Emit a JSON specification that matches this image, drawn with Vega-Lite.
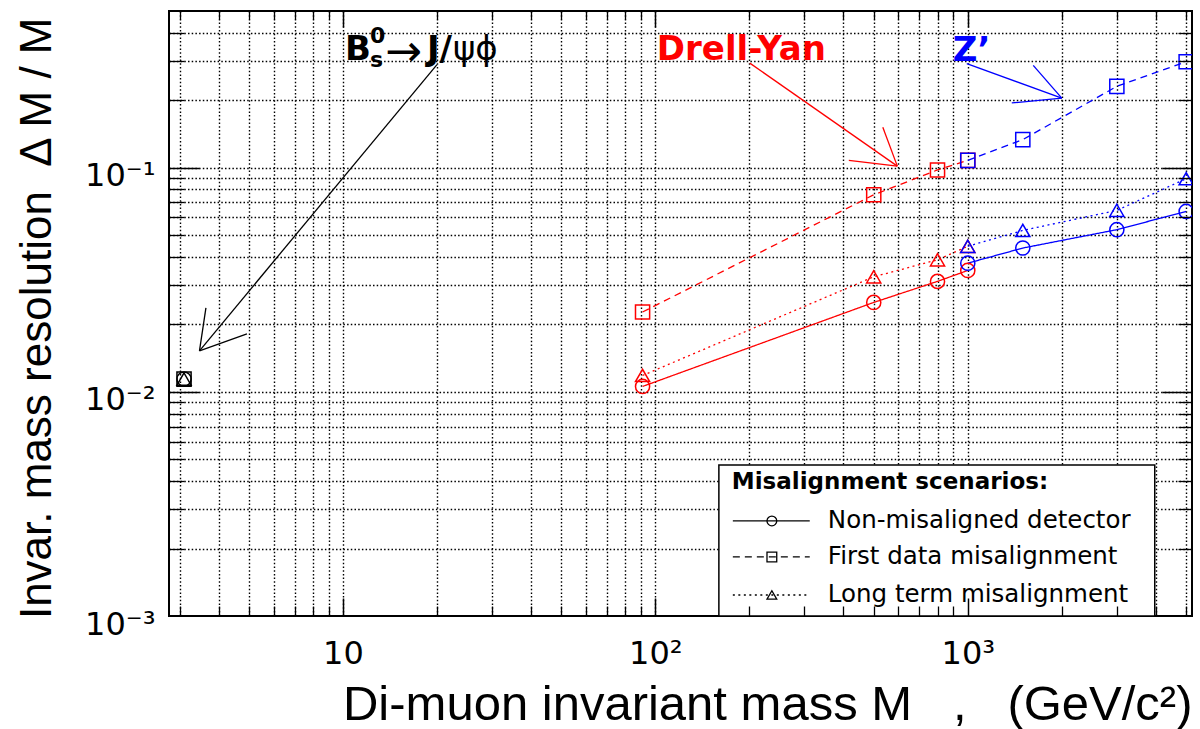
{
  "$schema": "https://vega.github.io/schema/vega-lite/v6.json",
  "width": 1023,
  "height": 605,
  "autosize": {"type": "none"},
  "padding": {"left": 169, "top": 11, "right": 8, "bottom": 113},
  "background": "white",
  "config": {"view": {"stroke": "#000", "strokeWidth": 2}},
  "datasets": {
    "series": [
      {"process": "DY", "scenario": "Non", "mass": 91, "res": 0.01057},
      {"process": "DY", "scenario": "Non", "mass": 500, "res": 0.02506},
      {"process": "DY", "scenario": "Non", "mass": 800, "res": 0.0311},
      {"process": "DY", "scenario": "Non", "mass": 1000, "res": 0.0348},
      {"process": "DY", "scenario": "First", "mass": 91, "res": 0.0227},
      {"process": "DY", "scenario": "First", "mass": 500, "res": 0.0757},
      {"process": "DY", "scenario": "First", "mass": 800, "res": 0.0977},
      {"process": "DY", "scenario": "First", "mass": 1000, "res": 0.1078},
      {"process": "DY", "scenario": "Long", "mass": 91, "res": 0.01183},
      {"process": "DY", "scenario": "Long", "mass": 500, "res": 0.0326},
      {"process": "DY", "scenario": "Long", "mass": 800, "res": 0.0388},
      {"process": "DY", "scenario": "Long", "mass": 1000, "res": 0.0446},
      {"process": "Zp", "scenario": "Non", "mass": 1000, "res": 0.0375},
      {"process": "Zp", "scenario": "Non", "mass": 1500, "res": 0.0438},
      {"process": "Zp", "scenario": "Non", "mass": 3000, "res": 0.0529},
      {"process": "Zp", "scenario": "Non", "mass": 5000, "res": 0.0638},
      {"process": "Zp", "scenario": "First", "mass": 1000, "res": 0.1078},
      {"process": "Zp", "scenario": "First", "mass": 1500, "res": 0.1334},
      {"process": "Zp", "scenario": "First", "mass": 3000, "res": 0.2306},
      {"process": "Zp", "scenario": "First", "mass": 5000, "res": 0.297},
      {"process": "Zp", "scenario": "Long", "mass": 1000, "res": 0.0446},
      {"process": "Zp", "scenario": "Long", "mass": 1500, "res": 0.0525},
      {"process": "Zp", "scenario": "Long", "mass": 3000, "res": 0.0645},
      {"process": "Zp", "scenario": "Long", "mass": 5000, "res": 0.0893},
      {"process": "JPsi", "scenario": "Non", "mass": 3.1, "res": 0.0114},
      {"process": "JPsi", "scenario": "First", "mass": 3.1, "res": 0.0114},
      {"process": "JPsi", "scenario": "Long", "mass": 3.1, "res": 0.0114}
    ],
    "arrows": [
      {"process": "JPsi", "x": 20, "y": 0.2883, "x2": 3.474, "y2": 0.01524},
      {"process": "JPsi", "x": 3.474, "y": 0.01524, "x2": 3.643, "y2": 0.02371},
      {"process": "JPsi", "x": 3.474, "y": 0.01524, "x2": 4.929, "y2": 0.01815},
      {"process": "DY", "x": 200.6, "y": 0.2927, "x2": 594.9, "y2": 0.1016},
      {"process": "DY", "x": 594.9, "y": 0.1016, "x2": 534.6, "y2": 0.1516},
      {"process": "DY", "x": 594.9, "y": 0.1016, "x2": 416.1, "y2": 0.1078},
      {"process": "Zp", "x": 992.7, "y": 0.2912, "x2": 1999, "y2": 0.2043},
      {"process": "Zp", "x": 1999, "y": 0.2043, "x2": 1620, "y2": 0.2862},
      {"process": "Zp", "x": 1999, "y": 0.2043, "x2": 1383, "y2": 0.1944}
    ],
    "bigtext": [
      {"process": "JPsi", "label": "B", "x": 10.15, "y": 0.3034},
      {"process": "JPsi", "label": "J/", "x": 18.57, "y": 0.3034},
      {"process": "DY", "label": "Drell-Yan", "x": 101.1, "y": 0.3034},
      {"process": "Zp", "label": "Z’", "x": 895.4, "y": 0.3004}
    ],
    "supsub": [
      {"label": "0", "x": 12.2, "y": 0.3614},
      {"label": "s", "x": 12.2, "y": 0.2825}
    ],
    "arrowglyph": [{"label": "→", "x": 13.63, "y": 0.2853}],
    "greek": [{"label": "ψϕ", "x": 22.49, "y": 0.3034}],
    "legbox": [{"x": 159.7, "x2": 3967, "y": 0.001, "y2": 0.00472}],
    "legtitle": [{"label": "Misalignment scenarios:", "x": 175.7, "y": 0.00369}],
    "legentries": [
      {"scenario": "Non", "label": "Non-misaligned detector", "x1": 177, "x2": 312, "xm": 236, "xt": 356.5, "y": 0.002655},
      {"scenario": "First", "label": "First data misalignment", "x1": 177, "x2": 312, "xm": 236, "xt": 356.5, "y": 0.001834},
      {"scenario": "Long", "label": "Long term misalignment", "x1": 177, "x2": 312, "xm": 236, "xt": 356.5, "y": 0.001241}
    ]
  },
  "resolve": {"axis": {"x": "independent", "y": "independent"}},
  "layer": [
    {
      "data": {"name": "series"},
      "mark": {"type": "line", "strokeWidth": 1.3},
      "encoding": {
        "x": {"field": "mass", "type": "quantitative", "scale": {"type": "log", "domain": [2.775, 5220], "nice": false},
          "axis": {"orient": "bottom", "values": [10, 100, 1000], "ticks": false, "tickSize": 0, "domain": false, "grid": false, "labels": true,
            "labelExpr": "datum.value < 50 ? '10' : datum.value < 500 ? '10²' : '10³'",
            "labelFont": "DejaVu Sans", "labelFontSize": 32, "labelColor": "#000", "labelPadding": 22, "labelBaseline": "top", "labelAlign": "center", "labelFlush": false, "labelOverlap": false,
            "title": "Di-muon invariant mass M\u00a0\u00a0\u00a0,\u00a0\u00a0\u00a0(GeV/c²)", "titleFont": "Liberation Sans", "titleFontSize": 49, "titleFontWeight": "normal", "titleColor": "#000",
            "titleX": 1023, "titleY": 103, "titleAlign": "right", "titleAnchor": "end", "titleBaseline": "alphabetic"}},
        "y": {"field": "res", "type": "quantitative", "scale": {"type": "log", "domain": [0.001, 0.5], "nice": false},
          "axis": {"orient": "left", "values": [0.001, 0.01, 0.1], "ticks": false, "tickSize": 0, "domain": false, "grid": false, "labels": true,
            "labelExpr": "datum.value < 0.005 ? '10⁻³' : datum.value < 0.05 ? '10⁻²' : '10⁻¹'",
            "labelFont": "DejaVu Sans", "labelFontSize": 32, "labelColor": "#000", "labelPadding": 14, "labelAlign": "right", "labelBaseline": "middle", "labelOffset": 8, "labelFlush": false, "labelOverlap": false,
            "title": "Invar. mass resolution\u00a0\u00a0Δ M / M", "titleFont": "Liberation Sans", "titleFontSize": 44, "titleFontWeight": "normal", "titleColor": "#000",
            "titleAngle": -90, "titleX": -119, "titleY": 6, "titleAlign": "right", "titleAnchor": "end", "titleBaseline": "alphabetic"}},
        "color": {"field": "process", "type": "nominal", "scale": {"domain": ["DY", "Zp", "JPsi"], "range": ["#ff0000", "#0000ff", "#000000"]}, "legend": null},
        "strokeDash": {"field": "scenario", "type": "nominal", "scale": {"domain": ["Non", "First", "Long"], "range": [[1, 0], [7, 5], [2, 3.5]]}, "legend": null}
      }
    },
    {
      "data": {"name": "series"},
      "mark": {"type": "point", "filled": false, "strokeWidth": 1.5, "size": 200, "opacity": 1, "clip": true},
      "encoding": {
        "x": {"field": "mass", "type": "quantitative", "scale": {"type": "log", "domain": [2.775, 5220], "nice": false},
          "axis": {"orient": "bottom", "values": [3, 4, 5, 6, 7, 8, 9, 10, 20, 30, 40, 50, 60, 70, 80, 90, 100, 200, 300, 400, 500, 600, 700, 800, 900, 1000, 2000, 3000, 4000, 5000],
            "grid": true, "gridColor": "#000", "gridDash": [1.5, 2.2], "gridWidth": 1.4, "gridOpacity": 1, "ticks": false, "labels": false, "domain": false, "title": null, "zindex": 0}},
        "y": {"field": "res", "type": "quantitative", "scale": {"type": "log", "domain": [0.001, 0.5], "nice": false},
          "axis": {"orient": "left", "values": [0.002, 0.003, 0.004, 0.005, 0.006, 0.007, 0.008, 0.009, 0.01, 0.02, 0.03, 0.04, 0.05, 0.06, 0.07, 0.08, 0.09, 0.1, 0.2, 0.3, 0.4],
            "grid": true, "gridColor": "#000", "gridDash": [1.5, 2.2], "gridWidth": 1.4, "gridOpacity": 1, "ticks": false, "labels": false, "domain": false, "title": null, "zindex": 0}},
        "color": {"field": "process", "type": "nominal", "legend": null},
        "shape": {"field": "scenario", "type": "nominal", "scale": {"domain": ["Non", "First", "Long"], "range": ["circle", "square", "triangle-up"]}, "legend": null}
      }
    },
    {
      "data": {"name": "legbox"},
      "mark": {"type": "rect", "fill": "#ffffff", "stroke": "#000", "strokeWidth": 1.5},
      "encoding": {
        "x": {"field": "x", "type": "quantitative", "scale": {"type": "log", "domain": [2.775, 5220], "nice": false},
          "axis": {"orient": "bottom", "values": [3, 4, 5, 6, 7, 8, 9, 20, 30, 40, 50, 60, 70, 80, 90, 200, 300, 400, 500, 600, 700, 800, 900, 2000, 3000, 4000, 5000],
            "ticks": true, "tickSize": -10, "tickColor": "#000", "tickWidth": 1.3, "labels": false, "domain": false, "grid": false, "title": null, "zindex": 1}},
        "x2": {"field": "x2"},
        "y": {"field": "y", "type": "quantitative", "scale": {"type": "log", "domain": [0.001, 0.5], "nice": false},
          "axis": {"orient": "left", "values": [0.002, 0.003, 0.004, 0.005, 0.006, 0.007, 0.008, 0.009, 0.02, 0.03, 0.04, 0.05, 0.06, 0.07, 0.08, 0.09, 0.2, 0.3, 0.4],
            "ticks": true, "tickSize": -15, "tickColor": "#000", "tickWidth": 1.3, "labels": false, "domain": false, "grid": false, "title": null, "zindex": 1}},
        "y2": {"field": "y2"}
      }
    },
    {
      "data": {"name": "legentries"},
      "mark": {"type": "rule", "color": "#000", "strokeWidth": 1.3},
      "encoding": {
        "x": {"field": "x1", "type": "quantitative", "scale": {"type": "log", "domain": [2.775, 5220], "nice": false},
          "axis": {"orient": "bottom", "values": [10, 100, 1000], "ticks": true, "tickSize": -18, "tickColor": "#000", "tickWidth": 1.5, "labels": false, "domain": false, "grid": false, "title": null, "zindex": 1}},
        "x2": {"field": "x2"},
        "y": {"field": "y", "type": "quantitative", "scale": {"type": "log", "domain": [0.001, 0.5], "nice": false},
          "axis": {"orient": "left", "values": [0.01, 0.1], "ticks": true, "tickSize": -30, "tickColor": "#000", "tickWidth": 1.5, "labels": false, "domain": false, "grid": false, "title": null, "zindex": 1}},
        "strokeDash": {"field": "scenario", "type": "nominal", "legend": null}
      }
    },
    {
      "data": {"name": "legentries"},
      "mark": {"type": "point", "filled": false, "color": "#000", "strokeWidth": 1.3, "size": 95, "opacity": 1},
      "encoding": {
        "x": {"field": "xm", "type": "quantitative", "scale": {"type": "log", "domain": [2.775, 5220], "nice": false},
          "axis": {"orient": "top", "values": [3, 4, 5, 6, 7, 8, 9, 20, 30, 40, 50, 60, 70, 80, 90, 200, 300, 400, 500, 600, 700, 800, 900, 2000, 3000, 4000, 5000],
            "ticks": true, "tickSize": -8, "tickColor": "#000", "tickWidth": 1.3, "labels": false, "domain": false, "grid": false, "title": null, "zindex": 1}},
        "y": {"field": "y", "type": "quantitative", "scale": {"type": "log", "domain": [0.001, 0.5], "nice": false},
          "axis": {"orient": "right", "values": [0.002, 0.003, 0.004, 0.005, 0.006, 0.007, 0.008, 0.009, 0.02, 0.03, 0.04, 0.05, 0.06, 0.07, 0.08, 0.09, 0.2, 0.3, 0.4],
            "ticks": true, "tickSize": -14, "tickColor": "#000", "tickWidth": 1.3, "labels": false, "domain": false, "grid": false, "title": null, "zindex": 1}},
        "shape": {"field": "scenario", "type": "nominal", "legend": null}
      }
    },
    {
      "data": {"name": "legtitle"},
      "mark": {"type": "text", "font": "DejaVu Sans", "fontWeight": "bold", "fontSize": 23, "align": "left", "baseline": "alphabetic", "color": "#000"},
      "encoding": {
        "x": {"field": "x", "type": "quantitative", "scale": {"type": "log", "domain": [2.775, 5220], "nice": false},
          "axis": {"orient": "top", "values": [10, 100, 1000], "ticks": true, "tickSize": -16, "tickColor": "#000", "tickWidth": 1.5, "labels": false, "domain": false, "grid": false, "title": null, "zindex": 1}},
        "y": {"field": "y", "type": "quantitative", "scale": {"type": "log", "domain": [0.001, 0.5], "nice": false},
          "axis": {"orient": "right", "values": [0.01, 0.1], "ticks": true, "tickSize": -30, "tickColor": "#000", "tickWidth": 1.5, "labels": false, "domain": false, "grid": false, "title": null, "zindex": 1}},
        "text": {"field": "label"}
      }
    },
    {
      "data": {"name": "legentries"},
      "mark": {"type": "text", "font": "DejaVu Sans", "fontSize": 24.5, "align": "left", "baseline": "middle", "color": "#000"},
      "encoding": {
        "x": {"field": "xt", "type": "quantitative", "scale": {"type": "log", "domain": [2.775, 5220], "nice": false}, "axis": null},
        "y": {"field": "y", "type": "quantitative", "scale": {"type": "log", "domain": [0.001, 0.5], "nice": false}, "axis": null},
        "text": {"field": "label"}
      }
    },
    {
      "data": {"name": "arrows"},
      "mark": {"type": "rule", "strokeWidth": 1.3},
      "encoding": {
        "x": {"field": "x", "type": "quantitative", "scale": {"type": "log", "domain": [2.775, 5220], "nice": false}, "axis": null},
        "y": {"field": "y", "type": "quantitative", "scale": {"type": "log", "domain": [0.001, 0.5], "nice": false}, "axis": null},
        "x2": {"field": "x2"},
        "y2": {"field": "y2"},
        "color": {"field": "process", "type": "nominal", "legend": null}
      }
    },
    {
      "data": {"name": "bigtext"},
      "mark": {"type": "text", "font": "DejaVu Sans", "fontWeight": "bold", "fontSize": 34, "align": "left", "baseline": "alphabetic"},
      "encoding": {
        "x": {"field": "x", "type": "quantitative", "scale": {"type": "log", "domain": [2.775, 5220], "nice": false}, "axis": null},
        "y": {"field": "y", "type": "quantitative", "scale": {"type": "log", "domain": [0.001, 0.5], "nice": false}, "axis": null},
        "text": {"field": "label"},
        "color": {"field": "process", "type": "nominal", "legend": null}
      }
    },
    {
      "data": {"name": "supsub"},
      "mark": {"type": "text", "font": "DejaVu Sans", "fontWeight": "bold", "fontSize": 22, "align": "left", "baseline": "alphabetic", "color": "#000"},
      "encoding": {
        "x": {"field": "x", "type": "quantitative", "scale": {"type": "log", "domain": [2.775, 5220], "nice": false}, "axis": null},
        "y": {"field": "y", "type": "quantitative", "scale": {"type": "log", "domain": [0.001, 0.5], "nice": false}, "axis": null},
        "text": {"field": "label"}
      }
    },
    {
      "data": {"name": "arrowglyph"},
      "mark": {"type": "text", "font": "DejaVu Sans", "fontSize": 44, "align": "left", "baseline": "alphabetic", "color": "#000"},
      "encoding": {
        "x": {"field": "x", "type": "quantitative", "scale": {"type": "log", "domain": [2.775, 5220], "nice": false}, "axis": null},
        "y": {"field": "y", "type": "quantitative", "scale": {"type": "log", "domain": [0.001, 0.5], "nice": false}, "axis": null},
        "text": {"field": "label"}
      }
    },
    {
      "data": {"name": "greek"},
      "mark": {"type": "text", "font": "DejaVu Sans", "fontSize": 34, "align": "left", "baseline": "alphabetic", "color": "#000"},
      "encoding": {
        "x": {"field": "x", "type": "quantitative", "scale": {"type": "log", "domain": [2.775, 5220], "nice": false}, "axis": null},
        "y": {"field": "y", "type": "quantitative", "scale": {"type": "log", "domain": [0.001, 0.5], "nice": false}, "axis": null},
        "text": {"field": "label"}
      }
    }
  ]
}
